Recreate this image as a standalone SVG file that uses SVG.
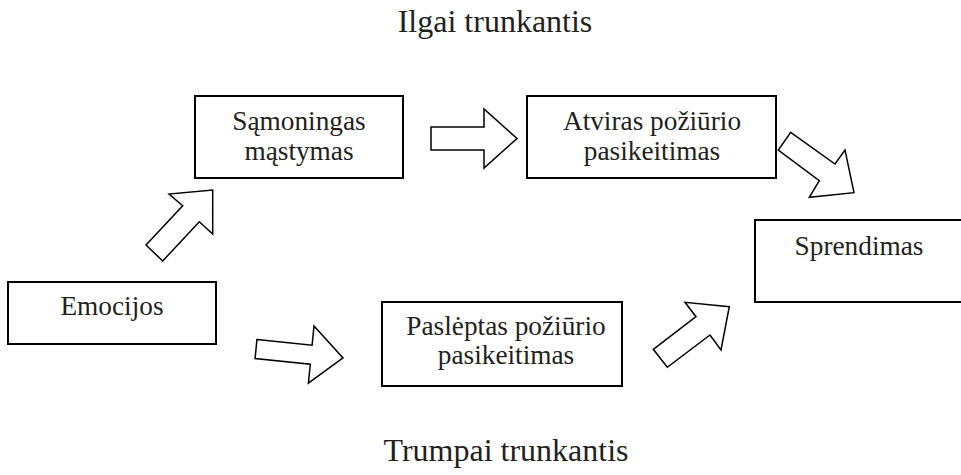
<svg xmlns="http://www.w3.org/2000/svg" width="961" height="475" viewBox="0 0 961 475">
<style>
  .box { fill: #fff; stroke: #000; stroke-width: 2; }
  .arr { fill: #fff; stroke: #000; stroke-width: 1.5; stroke-linejoin: miter; }
  .lbl { font-family: "Liberation Serif", "Times New Roman", serif; font-size: 27.3px; fill: #231f20; text-anchor: middle; }
  .title { font-family: "Liberation Serif", "Times New Roman", serif; font-size: 32px; fill: #231f20; text-anchor: middle; }
</style>
<rect width="961" height="475" fill="#fff"/>
<text class="title" x="495" y="32">Ilgai trunkantis</text>
<text class="title" x="506" y="461">Trumpai trunkantis</text>

<g id="connectors">
  <polygon class="arr" points="146,245 182.7,205.7 169,194 212.7,190 212.7,234 199.3,221.7 162.7,261"/>
  <polygon class="arr" points="431,127 484,127 484,109 517,138.5 484,168 484,150 431,150"/>
  <polygon class="arr" points="790.7,132.3 835,164 845,150 854,192.7 809.3,197.3 819.3,180.7 778.3,150"/>
  <polygon class="arr" points="256.9,339.5 312.1,345.2 314,326.1 343,357.9 308.4,383.2 310.3,364.2 255.1,358.5"/>
  <polygon class="arr" points="653.3,349.3 696,316.7 685,302.3 729.3,306.7 721,350 710,335 667.3,367.3"/>
</g>

<g id="emocijos">
  <rect class="box" x="8" y="282" width="208" height="62"/>
  <text class="lbl" x="112" y="315">Emocijos</text>
</g>
<g id="samoningas">
  <rect class="box" x="195" y="96" width="208" height="82"/>
  <text class="lbl" x="299" y="130">Sąmoningas</text>
  <text class="lbl" x="299" y="160">mąstymas</text>
</g>
<g id="atviras">
  <rect class="box" x="527" y="96" width="249" height="82"/>
  <text class="lbl" x="652" y="130">Atviras požiūrio</text>
  <text class="lbl" x="652" y="160">pasikeitimas</text>
</g>
<g id="pasleptas">
  <rect class="box" x="382" y="302" width="240" height="84"/>
  <text class="lbl" x="506" y="335">Paslėptas požiūrio</text>
  <text class="lbl" x="506" y="364">pasikeitimas</text>
</g>
<g id="sprendimas">
  <rect class="box" x="755" y="220" width="220" height="82"/>
  <text class="lbl" x="859" y="255">Sprendimas</text>
</g>
</svg>
